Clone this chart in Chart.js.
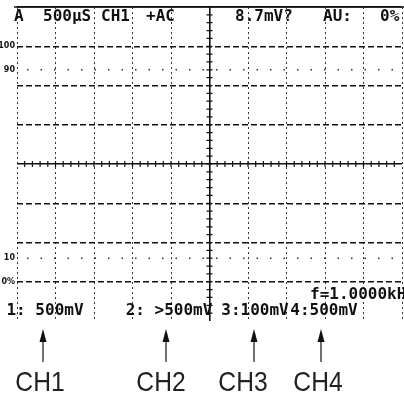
<!DOCTYPE html>
<html>
<head>
<meta charset="utf-8">
<script src="https://cdn.jsdelivr.net/npm/chart.js@4.4.1/dist/chart.umd.min.js"></script>
<style>
  html, body { margin: 0; padding: 0; background: #fff; }
</style>
</head>
<body>
<canvas id="scope" width="404" height="395"></canvas>
<script>
// screen data
const timeDivisions = [0, 1, 2, 3, 4, 5, 6, 7, 8, 9, 10];
const levelValues = [100, 90, 10, 0];
const levelLabels = ['100', '90', '10', '0%'];
const dottedLevels = [90, 10];
const topReadouts = ['A', '500μS', 'CH1', '+AC', '8.7mV?', 'AU:', '0%'];
const channelReadouts = ['1: 500mV', '2: >500mV', '3:100mV', '4:500mV'];
const channelNames = ['CH1', 'CH2', 'CH3', 'CH4'];
const freqReadout = 'f=1.0000kHz';

// 8 vertical divisions, 0% on the 1st line, 100% on the 7th
const pctPerDiv = 100 / 6;
const yMin = -pctPerDiv;
const yMax = 100 + pctPerDiv;

const INK = '#111';
const MONO = 'bold 16px "DejaVu Sans Mono", monospace';

const scopePlugin = {
    id: 'scope',
    afterDraw(chart) {
        const { ctx, chartArea: a, scales: { x, y } } = chart;
        ctx.save();
        ctx.strokeStyle = INK;
        ctx.fillStyle = INK;

        // top frame line
        ctx.lineWidth = 1.6;
        ctx.beginPath();
        ctx.moveTo(a.left - 3, a.top);
        ctx.lineTo(chart.width, a.top);
        ctx.stroke();

        // minor ticks on centre axes
        const cx = x.getPixelForValue(5);
        const cy = y.getPixelForValue(50);
        ctx.lineWidth = 1.2;
        ctx.beginPath();
        for (let k = 1; k < 40; k++) {
            const py = y.getPixelForValue(yMin + k * pctPerDiv / 5);
            ctx.moveTo(cx - 3, py); ctx.lineTo(cx + 3, py);
        }
        for (let k = 1; k < 50; k++) {
            const px = x.getPixelForValue(k / 5);
            ctx.moveTo(px, cy - 3); ctx.lineTo(px, cy + 3);
        }
        ctx.stroke();

        // level markers at the left edge
        ctx.font = 'bold 8px "DejaVu Sans", sans-serif';
        ctx.textAlign = 'right';
        ctx.textBaseline = 'middle';
        levelValues.forEach((v, i) => {
            ctx.fillText(levelLabels[i], a.left - 2, y.getPixelForValue(v));
        });

        // top readout
        const topX = [14, 43, 101, 146, 235, 323, 380];
        ctx.font = MONO;
        ctx.textAlign = 'left';
        ctx.textBaseline = 'alphabetic';
        topReadouts.forEach((t, i) => ctx.fillText(t, topX[i], 21));

        // frequency + channel readouts
        ctx.fillText(freqReadout, 310, 299);
        const chX = [45, 169, 255, 324];
        ctx.textAlign = 'center';
        channelReadouts.forEach((t, i) => ctx.fillText(t, chX[i], 315));

        // arrows
        const arrowX = [43, 166, 254, 321];
        ctx.lineWidth = 1.2;
        arrowX.forEach(ax => {
            ctx.beginPath();
            ctx.moveTo(ax, 338); ctx.lineTo(ax, 362);
            ctx.stroke();
            ctx.beginPath();
            ctx.moveTo(ax, 329); ctx.lineTo(ax - 3.5, 342); ctx.lineTo(ax + 3.5, 342);
            ctx.closePath();
            ctx.fill();
        });

        // channel names
        const nameX = [40, 161, 243, 318];
        ctx.font = '28px "Liberation Sans", Arial, sans-serif';
        ctx.fillStyle = '#222';
        channelNames.forEach((t, i) => {
            ctx.save();
            ctx.translate(nameX[i], 391);
            ctx.scale(0.88, 1);
            ctx.fillText(t, 0, 0);
            ctx.restore();
        });
        ctx.restore();
    }
};

new Chart(document.getElementById('scope').getContext('2d'), {
    type: 'line',
    data: {
        datasets: dottedLevels.map(lv => ({
            data: [
                { x: timeDivisions[0], y: lv },
                { x: timeDivisions[timeDivisions.length - 1], y: lv }
            ],
            borderColor: '#333',
            borderWidth: 1.6,
            borderDash: [1.5, 12],
            borderDashOffset: -10,
            pointRadius: 0
        }))
    },
    options: {
        responsive: false,
        animation: false,
        devicePixelRatio: 1,
        layout: { padding: { left: 17, right: 2, top: 7, bottom: 74 } },
        plugins: { legend: { display: false }, tooltip: { enabled: false } },
        scales: {
            x: {
                type: 'linear',
                min: 0,
                max: 10,
                ticks: { display: false, stepSize: 1 },
                afterBuildTicks: s => { s.ticks = timeDivisions.map(v => ({ value: v })); },
                grid: {
                    drawTicks: false,
                    color: c => c.index === 5 ? INK : '#333',
                    lineWidth: c => c.index === 5 ? 1.6 : 1
                },
                border: { display: false, dash: c => c.index === 5 ? [] : [2, 3] }
            },
            y: {
                type: 'linear',
                min: yMin,
                max: yMax,
                ticks: { display: false },
                afterBuildTicks: s => {
                    s.ticks = [0, 1, 2, 3, 4, 5, 6, 7, 8].map(i => ({ value: yMin + i * pctPerDiv }));
                },
                grid: {
                    drawTicks: false,
                    color: c => c.index === 0 ? 'rgba(0,0,0,0)' : INK,
                    lineWidth: c => c.index === 4 ? 1.6 : 1.5
                },
                border: { display: false, dash: c => (c.index === 4 || c.index === 8) ? [] : [6, 3] }
            }
        }
    },
    plugins: [scopePlugin]
});
</script>
</body>
</html>
